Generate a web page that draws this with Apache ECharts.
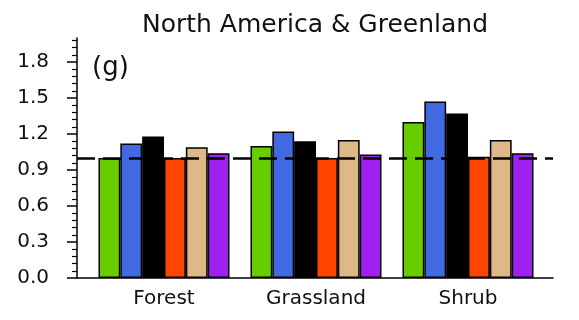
<!DOCTYPE html>
<html>
<head>
<meta charset="utf-8">
<script src="https://cdn.jsdelivr.net/npm/echarts@6/dist/echarts.min.js"></script>
<style>
  html, body { margin: 0; padding: 0; background: #fff; }
  #chart { width: 579px; height: 320px; }
</style>
</head>
<body>
<div id="chart"></div>
<script>
// Land-cover classes along the x axis
const categories = ['Forest', 'Grassland', 'Shrub'];

// Ratio values per class, one array per experiment
const greenValues  = [1.00, 1.10, 1.30];
const blueValues   = [1.12, 1.22, 1.47];
const blackValues  = [1.18, 1.14, 1.37];
const redValues    = [1.00, 1.00, 1.01];
const tanValues    = [1.09, 1.15, 1.15];
const purpleValues = [1.04, 1.03, 1.04];

// Y axis ticks and the dashed reference level
const yTicks = [0.0, 0.3, 0.6, 0.9, 1.2, 1.5, 1.8];
const yMin = 0.0;
const yMax = 2.0;
const referenceLevel = 1.0;

const titleText = 'North America & Greenland';
const panelTag = '(g)';

const FONT = 'DejaVu Sans';
const INK = '#111';

const barSeries = [
  { values: greenValues,  color: '#66cd00' },
  { values: blueValues,   color: '#4169e1' },
  { values: blackValues,  color: '#000000' },
  { values: redValues,    color: '#ff4500' },
  { values: tanValues,    color: '#deb887' },
  { values: purpleValues, color: '#a020f0' }
].map(s => ({
  type: 'bar',
  xAxisIndex: 1,
  yAxisIndex: 1,
  data: s.values,
  barGap: '0%',
  barCategoryGap: '13.8%',
  itemStyle: { color: s.color, borderColor: '#000', borderWidth: 1.5 },
  z: 2
}));

const chart = echarts.init(document.getElementById('chart'), null, { renderer: 'canvas' });

chart.setOption({
  animation: false,
  backgroundColor: '#fff',
  grid: [
    { left: 77, right: 26, top: 38, bottom: 42 },
    { left: 88, right: 35, top: 38, bottom: 42 }
  ],
  xAxis: [
    {
      type: 'value', gridIndex: 0, min: 0, max: 1,
      axisLine: { show: true, lineStyle: { color: '#000', width: 1.5 } },
      axisTick: { show: false }, axisLabel: { show: false }, splitLine: { show: false }
    },
    {
      type: 'category', gridIndex: 1, data: categories,
      axisLine: { show: false }, axisTick: { show: false }, splitLine: { show: false },
      axisLabel: { margin: 11, fontFamily: FONT, fontSize: 20, color: INK }
    }
  ],
  yAxis: [
    {
      type: 'value', gridIndex: 0, min: yMin, max: yMax, interval: 0.3,
      axisLine: { show: true, lineStyle: { color: '#000', width: 1.5 } },
      axisTick: {
        show: true, inside: false, length: 10,
        customValues: yTicks,
        lineStyle: { color: '#000', width: 1.5 }
      },
      minorTick: { show: true, splitNumber: 5, length: 5, lineStyle: { color: '#000', width: 1.2 } },
      splitLine: { show: false },
      axisLabel: {
        margin: 28, fontFamily: FONT, fontSize: 20, color: INK,
        customValues: yTicks,
        formatter: v => v.toFixed(1)
      }
    },
    {
      type: 'value', gridIndex: 1, min: yMin, max: yMax, show: false
    }
  ],
  graphic: [
    {
      type: 'text', x: 315, y: 13,
      style: { text: titleText, fontFamily: FONT, fontSize: 25, fill: INK, textAlign: 'center', textVerticalAlign: 'top' }
    },
    {
      type: 'text', x: 92, y: 55,
      style: { text: panelTag, fontFamily: FONT, fontSize: 26, fill: INK, textAlign: 'left', textVerticalAlign: 'top' }
    }
  ],
  series: barSeries.concat([
    {
      type: 'line',
      xAxisIndex: 0,
      yAxisIndex: 0,
      data: [],
      z: 10,
      markLine: {
        silent: true,
        symbol: ['none', 'none'],
        label: { show: false },
        z: 10,
        lineStyle: { color: '#000', width: 2.6, type: [18, 8] },
        data: [{ yAxis: referenceLevel }]
      }
    }
  ])
});
</script>
</body>
</html>
